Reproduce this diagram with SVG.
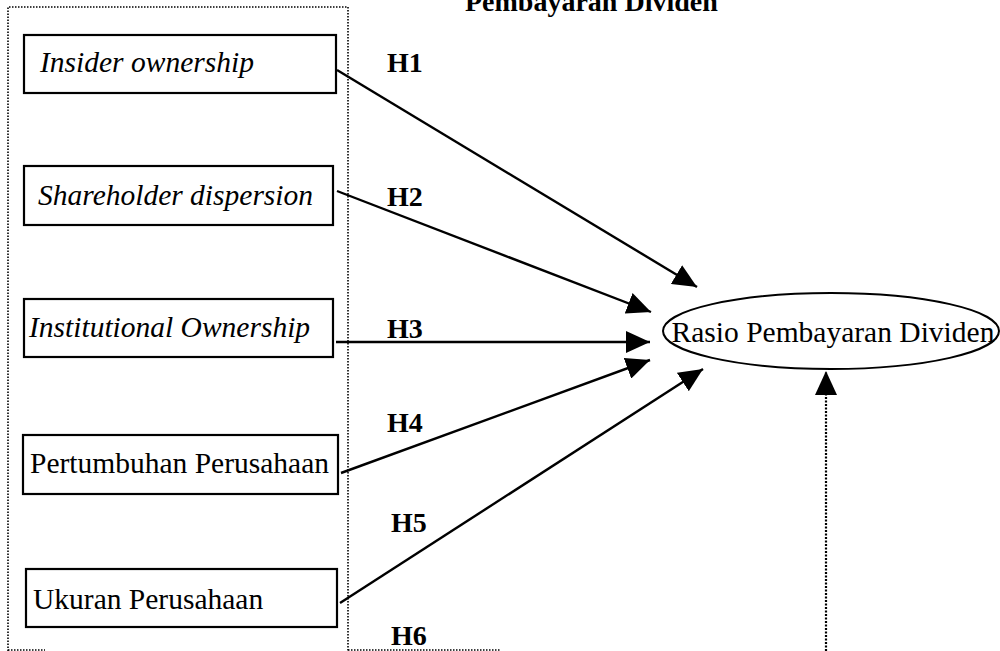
<svg xmlns="http://www.w3.org/2000/svg" width="1000" height="651" viewBox="0 0 1000 651">
  <style>
    .box { fill: #ffffff; stroke: #000000; stroke-width: 2.2; }
    .lbl { font-family: "Liberation Serif", "Times New Roman", serif; font-size: 29.5px; fill: #000000; }
    .it { font-style: italic; }
    .hyp { font-family: "Liberation Serif", "Times New Roman", serif; font-size: 28px; font-weight: bold; fill: #000000; }
    .title { font-family: "Liberation Serif", "Times New Roman", serif; font-size: 28px; font-weight: bold; fill: #000000; }
    .dot { fill: none; stroke: #000000; stroke-width: 1.6; stroke-dasharray: 1.5 1.5; }
    .edge { fill: none; stroke: #000000; stroke-width: 2.4; marker-end: url(#ah); }
    .dotedge { fill: none; stroke: #000000; stroke-width: 2.2; stroke-dasharray: 2 1.5; marker-end: url(#ah); }
  </style>
  <defs>
    <marker id="ah" viewBox="0 0 24 22" refX="24" refY="11" markerWidth="24" markerHeight="22" markerUnits="userSpaceOnUse" orient="auto">
      <path d="M0,0 L24,11 L0,22 Z" fill="#000000"/>
    </marker>
  </defs>
  <rect width="1000" height="651" fill="#ffffff"/>

  <text class="title" x="465" y="11">Pembayaran Dividen</text>

  <g id="group-frame">
    <path class="dot" d="M8,651 L8,7 L348,7 L348,651"/>
    <path class="dot" d="M8,650 L45,650 M348,650 L500,650"/>
  </g>

  <g id="node-insider">
    <rect class="box" x="24" y="35" width="312" height="58"/>
    <text class="lbl it" x="40" y="72">Insider ownership</text>
  </g>
  <g id="node-shareholder">
    <rect class="box" x="24" y="166" width="309" height="59"/>
    <text class="lbl it" x="38" y="205">Shareholder dispersion</text>
  </g>
  <g id="node-institutional">
    <rect class="box" x="24" y="299" width="309" height="58"/>
    <text class="lbl it" x="29" y="337">Institutional Ownership</text>
  </g>
  <g id="node-pertumbuhan">
    <rect class="box" x="23" y="435" width="315" height="59"/>
    <text class="lbl" x="30" y="473">Pertumbuhan Perusahaan</text>
  </g>
  <g id="node-ukuran">
    <rect class="box" x="26" y="569" width="311" height="58"/>
    <text class="lbl" x="33" y="609">Ukuran Perusahaan</text>
  </g>
  <g id="node-rasio">
    <ellipse cx="831" cy="331" rx="168" ry="38" fill="#ffffff" stroke="#000000" stroke-width="2"/>
    <text class="lbl" x="833" y="342" text-anchor="middle">Rasio Pembayaran Dividen</text>
  </g>

  <g id="connectors">
    <line class="edge" x1="337" y1="70" x2="697" y2="287"/>
    <line class="edge" x1="337" y1="191" x2="651" y2="312"/>
    <line class="edge" x1="336" y1="342" x2="650" y2="342"/>
    <line class="edge" x1="341" y1="473" x2="650" y2="360"/>
    <line class="edge" x1="340" y1="603" x2="703" y2="369"/>
    <line class="dotedge" x1="826" y1="651" x2="826" y2="371"/>
  </g>

  <g id="labels">
    <text class="hyp" x="387" y="72">H1</text>
    <text class="hyp" x="387" y="206">H2</text>
    <text class="hyp" x="387" y="338">H3</text>
    <text class="hyp" x="387" y="432">H4</text>
    <text class="hyp" x="391" y="532">H5</text>
    <text class="hyp" x="391" y="645">H6</text>
  </g>
</svg>
